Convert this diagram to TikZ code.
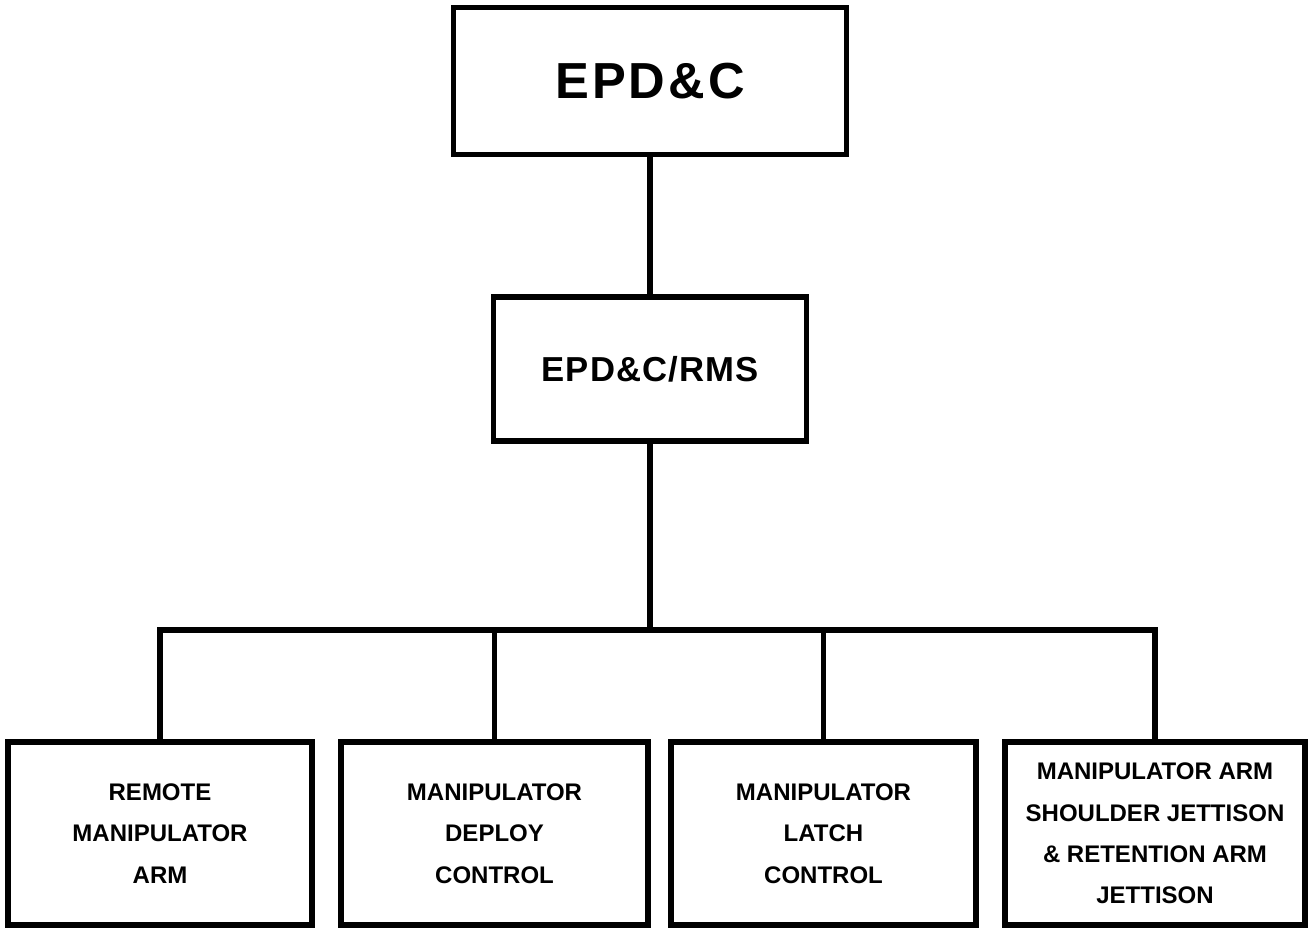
\documentclass[tikz,border=0pt]{standalone}
\usepackage{fontspec}
\setmainfont{Liberation Sans}
\usetikzlibrary{positioning}

\begin{document}
\begin{tikzpicture}[x=0.75pt,y=0.75pt,yscale=-1,xscale=1,
  box/.style={draw, line width=4.2pt, inner sep=0pt, align=center},
  leaf/.style={box, minimum height=137pt, font=\fontsize{18}{31}\selectfont\bfseries},
  link/.style={line width=4.2pt}]
\useasboundingbox (0,0) rectangle (1316,928);

%Top box
\node [box, minimum width=295pt, minimum height=110pt,
  font=\fontsize{38}{40}\selectfont\bfseries\addfontfeature{LetterSpace=6}] (epdc) at (650,81) {EPD\&C};
%Middle box
\node [box, minimum width=235pt, minimum height=108pt,
  font=\fontsize{26}{28}\selectfont\bfseries\addfontfeature{LetterSpace=3}] (rms) at (650,369) {EPD\&C/RMS};

%Bottom boxes
\node [leaf, minimum width=228pt] (arm) at (160,833.5) {REMOTE\\MANIPULATOR\\ARM};
\node [leaf, minimum width=230pt] (deploy) at (494.5,833.5) {MANIPULATOR\\DEPLOY\\CONTROL};
\node [leaf, minimum width=229pt] (latch) at (823.5,833.5) {MANIPULATOR\\LATCH\\CONTROL};
\node [leaf, minimum width=225pt] (jett) at (1155,833.5) {MANIPULATOR ARM\\SHOULDER JETTISON\\\& RETENTION ARM\\JETTISON};

%Connectors
\coordinate (bus) at (650,630);
\draw [link] (epdc.south) -- (rms.north);
\draw [link] (rms.south) -- (bus);
\draw [link] (arm.north) |- (bus) -| (jett.north);
\draw [link] (deploy.north) -- (deploy.north |- bus);
\draw [link] (latch.north) -- (latch.north |- bus);

\end{tikzpicture}
\end{document}
